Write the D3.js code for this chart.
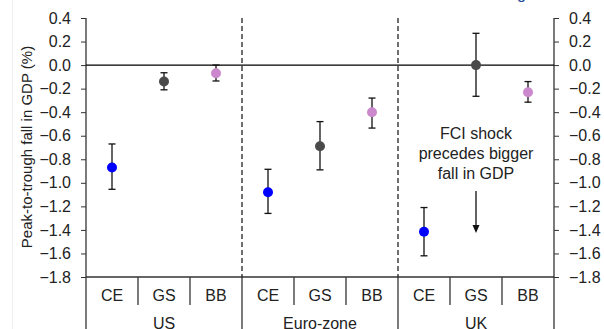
<!DOCTYPE html>
<html>
<head>
<meta charset="utf-8">
<script src="https://cdn.jsdelivr.net/npm/d3@7"></script>
<style>
  body { margin: 0; background: #fff; }
  svg { font-family: "Liberation Sans", Arial, sans-serif; }
</style>
</head>
<body>
<svg id="mysvg" width="604" height="329"></svg>
<script>
// data
var regions = ["US", "Euro-zone", "UK"];
var measures = ["CE", "GS", "BB"];
var central = [-0.87, -0.14, -0.07, -1.08, -0.69, -0.40, -1.415, 0.0, -0.23];
var upper   = [-0.67, -0.065, 0.0, -0.885, -0.48, -0.28, -1.21, 0.27, -0.14];
var lower   = [-1.055, -0.21, -0.135, -1.26, -0.89, -0.535, -1.62, -0.265, -0.315];
var yTicks  = [0.4, 0.2, 0.0, -0.2, -0.4, -0.6, -0.8, -1.0, -1.2, -1.4, -1.6, -1.8];
var colours = { CE: "#0000ff", GS: "#4a4a4a", BB: "#cc88cc" };

var svg = d3.select("#mysvg");
var padL = 86, padR = 554, padT = 18, padB = 277;
var fs = 16;

var keys = [];
regions.forEach(function (r) {
	measures.forEach(function (m) { keys.push(r + "|" + m); });
});
var points = keys.map(function (k, i) {
	return { key: k, region: k.split("|")[0], measure: k.split("|")[1], v: central[i], hi: upper[i], lo: lower[i] };
});

var x = d3.scaleBand().domain(keys).range([padL, padR]);
var xr = d3.scaleBand().domain(regions).range([padL, padR]);
var y = d3.scaleLinear().domain([-1.8, 0.4]).range([padB, padT]);

// faint frame line at the far left
svg.append("line").attr("x1", 12.5).attr("x2", 12.5).attr("y1", 0).attr("y2", 329)
	.attr("stroke", "#eeeeee");

// clipped blue text at the very top (title fragment)
svg.append("text").attr("x", 517).attr("y", -1).attr("font-size", 16)
	.attr("fill", "#1f4e9c").text("g");

// left and right axes
var fmt = d3.format(".1f");
var yl = svg.append("g").attr("transform", "translate(" + padL + ",0)")
	.call(d3.axisLeft(y).tickValues(yTicks).tickFormat(fmt).tickSizeOuter(0).tickSize(5).tickPadding(14));
var yr = svg.append("g").attr("transform", "translate(" + padR + ",0)")
	.call(d3.axisRight(y).tickValues(yTicks).tickFormat(fmt).tickSizeOuter(0).tickSize(5).tickPadding(14));
[yl, yr].forEach(function (a) {
	a.select(".domain").remove();
	a.selectAll("line").attr("stroke", "#333").attr("stroke-width", 1);
	a.selectAll("text").attr("font-size", fs).attr("fill", "#222")
		.style("font-family", "Liberation Sans, Arial, sans-serif");
});
yl.selectAll("text").attr("x", -15);
yr.selectAll("text").attr("x", 15);
svg.append("line").attr("x1", padL).attr("x2", padL).attr("y1", padT).attr("y2", 329)
	.attr("stroke", "#333").attr("stroke-width", 1.3);
svg.append("line").attr("x1", padR).attr("x2", padR).attr("y1", padT).attr("y2", 329)
	.attr("stroke", "#333").attr("stroke-width", 1.3);

// zero line and bottom axis line
svg.append("line").attr("x1", padL).attr("x2", padR).attr("y1", y(0)).attr("y2", y(0))
	.attr("stroke", "#000").attr("stroke-width", 1.3);
svg.append("line").attr("x1", padL).attr("x2", padR).attr("y1", padB).attr("y2", padB)
	.attr("stroke", "#333").attr("stroke-width", 1.3);

// dashed region separators
regions.slice(1).forEach(function (r) {
	var xx = xr(r);
	svg.append("line").attr("x1", xx).attr("x2", xx).attr("y1", padT).attr("y2", padB)
		.attr("stroke", "#222").attr("stroke-width", 1.3).attr("stroke-dasharray", "5,3");
	svg.append("line").attr("x1", xx).attr("x2", xx).attr("y1", padB).attr("y2", 329)
		.attr("stroke", "#333").attr("stroke-width", 1.3);
});

// category dividers below axis
keys.forEach(function (k, i) {
	if (i % 3 == 0) return;
	svg.append("line").attr("x1", x(k)).attr("x2", x(k)).attr("y1", padB).attr("y2", 305)
		.attr("stroke", "#333").attr("stroke-width", 1.3);
});

// category and region labels
svg.append("g").selectAll("text").data(points).enter().append("text")
	.attr("x", function (d) { return x(d.key) + x.bandwidth() / 2; })
	.attr("y", 301)
	.attr("text-anchor", "middle").attr("font-size", fs).attr("fill", "#222")
	.text(function (d) { return d.measure; });
svg.append("g").selectAll("text").data(regions).enter().append("text")
	.attr("x", function (d) { return xr(d) + xr.bandwidth() / 2; })
	.attr("y", 329)
	.attr("text-anchor", "middle").attr("font-size", fs).attr("fill", "#222")
	.text(function (d) { return d; });

// y axis title
svg.append("text").attr("transform", "translate(32,147) rotate(-90)")
	.attr("text-anchor", "middle").attr("font-size", 15).attr("fill", "#222")
	.text("Peak-to-trough fall in GDP (%)");

// error bars
var eb = svg.append("g").selectAll("g").data(points).enter().append("g");
eb.append("line")
	.attr("x1", function (d) { return x(d.key) + x.bandwidth() / 2; })
	.attr("x2", function (d) { return x(d.key) + x.bandwidth() / 2; })
	.attr("y1", function (d) { return y(d.hi); })
	.attr("y2", function (d) { return y(d.lo); })
	.attr("stroke", "#111").attr("stroke-width", 1.3);
["hi", "lo"].forEach(function (c) {
	eb.append("line")
		.attr("x1", function (d) { return x(d.key) + x.bandwidth() / 2 - 3.5; })
		.attr("x2", function (d) { return x(d.key) + x.bandwidth() / 2 + 3.5; })
		.attr("y1", function (d) { return y(d[c]); })
		.attr("y2", function (d) { return y(d[c]); })
		.attr("stroke", "#111").attr("stroke-width", 1.3);
});
eb.append("circle")
	.attr("cx", function (d) { return x(d.key) + x.bandwidth() / 2; })
	.attr("cy", function (d) { return y(d.v); })
	.attr("r", 5)
	.attr("fill", function (d) { return colours[d.measure]; });

// annotation
var ax = x("UK|GS") + x.bandwidth() / 2;
var note = ["FCI shock", "precedes bigger", "fall in GDP"];
svg.append("g").selectAll("text").data(note).enter().append("text")
	.attr("x", ax).attr("y", function (d, i) { return 139 + i * 20; })
	.attr("text-anchor", "middle").attr("font-size", fs).attr("fill", "#222")
	.text(function (d) { return d; });
svg.append("line").attr("x1", ax).attr("x2", ax).attr("y1", 191).attr("y2", 226)
	.attr("stroke", "#111").attr("stroke-width", 1.3);
svg.append("path").attr("d", "M" + (ax - 3.5) + ",225 L" + (ax + 3.5) + ",225 L" + ax + ",233 Z")
	.attr("fill", "#111");
</script>
</body>
</html>
